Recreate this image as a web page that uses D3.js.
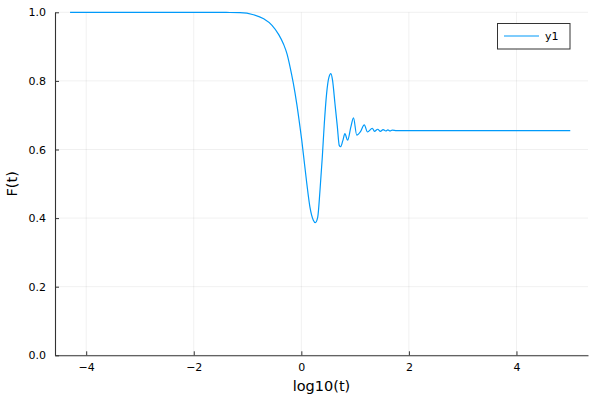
<!DOCTYPE html>
<html>
<head>
<meta charset="utf-8">
<script src="https://cdn.jsdelivr.net/npm/d3@7"></script>
<style>
  html, body { margin: 0; padding: 0; background: #fff; }
  svg { display: block; }
  text { font-family: "DejaVu Sans", sans-serif; fill: #000; }
</style>
</head>
<body>
<svg id="chart" width="600" height="400"></svg>
<script>
// ---- data ----
const logT = [-4.3, -3.5, -2.5, -1.8, -1.4, -1.14, -0.89, -0.70, -0.545, -0.42, -0.33, -0.265, -0.21, -0.15, -0.085, -0.025, 0.007, 0.037, 0.10, 0.16, 0.223, 0.26, 0.305, 0.347, 0.39, 0.427, 0.47, 0.514, 0.55, 0.58, 0.625, 0.67, 0.705, 0.73, 0.77, 0.81, 0.86, 0.92, 0.97, 1.03, 1.10, 1.17, 1.23, 1.32, 1.36, 1.42, 1.47, 1.52, 1.57, 1.61, 1.65, 1.69, 1.77, 2.5, 3.5, 5.0];
const F    = [1.0, 1.0, 1.0, 1.0, 0.9995, 0.999, 0.993, 0.981, 0.962, 0.935, 0.907, 0.878, 0.841, 0.794, 0.733, 0.666, 0.628, 0.588, 0.503, 0.432, 0.394, 0.387, 0.403, 0.481, 0.578, 0.675, 0.763, 0.811, 0.821, 0.802, 0.734, 0.666, 0.612, 0.608, 0.625, 0.646, 0.627, 0.665, 0.692, 0.642, 0.652, 0.672, 0.651, 0.662, 0.653, 0.659, 0.653, 0.658, 0.654, 0.657, 0.654, 0.6565, 0.655, 0.655, 0.655, 0.655];
const xTicks = [-4, -2, 0, 2, 4];
const yTicks = [0.0, 0.2, 0.4, 0.6, 0.8, 1.0];
const seriesName = "y1";
const xLabel = "log10(t)";
const yLabel = "F(t)";

// ---- layout ----
const svg = d3.select("#chart");
const mLeft = 55, mRight = 588, mTop = 12.3, mBottom = 355.3;
const x = d3.scaleLinear().domain([-4.58, 5.33]).range([mLeft, mRight]);
const y = d3.scaleLinear().domain([0, 1]).range([mBottom, mTop]);
const color = "#009AFA";

// grid
const grid = svg.append("g").attr("stroke", "#000").attr("stroke-opacity", 0.1).attr("stroke-width", 0.6);
grid.selectAll("line.vx").data(xTicks).join("line")
  .attr("x1", d => x(d)).attr("x2", d => x(d)).attr("y1", mTop).attr("y2", mBottom);
grid.selectAll("line.hy").data(yTicks).join("line")
  .attr("y1", d => y(d)).attr("y2", d => y(d)).attr("x1", mLeft).attr("x2", mRight);

// axes (spines with inward ticks)
const xAxis = d3.axisBottom(x).tickValues(xTicks).tickSizeInner(-4).tickSizeOuter(0).tickPadding(8)
  .tickFormat(d3.format("d"));
const gx = svg.append("g").attr("transform", `translate(0,${mBottom})`).call(xAxis);
gx.select(".domain").attr("stroke", "#333").attr("stroke-width", 1.1);
gx.selectAll(".tick line").attr("stroke", "#333");
gx.selectAll(".tick text").attr("font-size", 11).attr("font-family", "DejaVu Sans").attr("fill", "#000");

const yAxis = d3.axisLeft(y).tickValues(yTicks).tickSizeInner(-4).tickSizeOuter(0).tickPadding(9)
  .tickFormat(d3.format(".1f"));
const gy = svg.append("g").attr("transform", `translate(${mLeft},0)`).call(yAxis);
gy.select(".domain").attr("stroke", "#333").attr("stroke-width", 1.1);
gy.selectAll(".tick line").attr("stroke", "#333");
gy.selectAll(".tick text").attr("font-size", 11).attr("font-family", "DejaVu Sans").attr("fill", "#000");

// axis labels
svg.append("text").attr("x", (mLeft + mRight) / 2).attr("y", 391)
  .attr("text-anchor", "middle").attr("font-size", 14.5).text(xLabel);
svg.append("text").attr("transform", `translate(17,${(mTop + mBottom) / 2}) rotate(-90)`)
  .attr("text-anchor", "middle").attr("font-size", 14.5).text(yLabel);

// line
const pts = logT.map((v, i) => [v, F[i]]);
const line = d3.line().x(d => x(d[0])).y(d => y(d[1])).curve(d3.curveMonotoneX);
svg.append("path").datum(pts).attr("d", line)
  .attr("fill", "none").attr("stroke", color).attr("stroke-width", 1.2);

// legend
const lg = svg.append("g");
lg.append("rect").attr("x", 497.5).attr("y", 23.5).attr("width", 72.5).attr("height", 25.5)
  .attr("fill", "#fff").attr("stroke", "#333").attr("stroke-width", 1);
lg.append("line").attr("x1", 504).attr("x2", 539).attr("y1", 36).attr("y2", 36)
  .attr("stroke", color).attr("stroke-width", 1.2);
lg.append("text").attr("x", 545).attr("y", 36).attr("dy", "0.35em")
  .attr("font-size", 11).text(seriesName);
</script>
</body>
</html>
